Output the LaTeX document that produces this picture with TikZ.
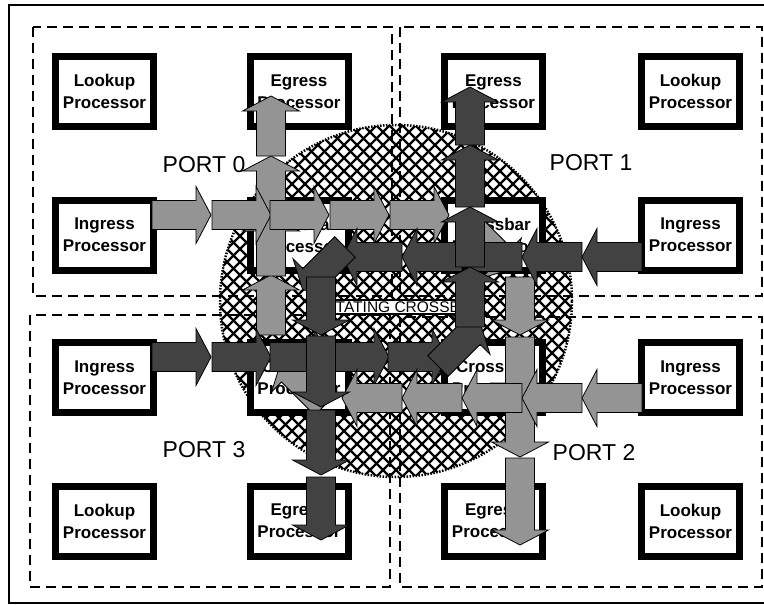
\documentclass[tikz,border=0pt]{standalone}
\usepackage{fontspec}
\setmainfont{Liberation Sans}
\definecolor{litegray}{gray}{0.58}
\definecolor{deepgray}{gray}{0.26}
\tikzset{
  pics/fatarrow/.style={code={
    \path[pic actions] (0,-14.5) -- ({#1-15},-14.5) -- ({#1-15},-28.5) -- (#1,0)
      -- ({#1-15},28.5) -- ({#1-15},14.5) -- (0,14.5) -- cycle;
  }}
}
\begin{document}
\begin{tikzpicture}[x=1pt, y=-1pt,
    proc/.style={draw, line width=7pt, fill=white, minimum width=98pt, minimum height=70pt,
      inner sep=0pt, align=center, font=\fontsize{17}{22}\selectfont\bfseries},
    portbox/.style={draw, dash pattern=on 10pt off 6pt, line width=2.2pt},
    portlabel/.style={font=\fontsize{23}{26}\selectfont},
    litearr/.style={fill=litegray, draw=black, line width=0.8pt},
    darkarr/.style={fill=deepgray, draw=black, line width=0.8pt},
    hatch/.style={line width=2.3pt}
  ]
  \useasboundingbox (0,0) rectangle (764,605);
  \draw[line width=2.6pt] (9,5) rectangle (770,603);
  % rotating crossbar
  \begin{scope}
    \clip (396,301) circle (176pt);
    \fill[white] (396,301) circle (176pt);
    \foreach \k in {-20,...,20} {
      \draw[hatch] ({396+13*\k-190},111) -- ({396+13*\k+190},491);
      \draw[hatch] ({396+13*\k-190},491) -- ({396+13*\k+190},111);
    }
  \end{scope}
  \draw[line width=2.5pt, dash pattern=on 1.5pt off 1.5pt] (396,301) circle (176pt);
  \draw[portbox] (33,27) rectangle (392,296);
  \draw[portbox] (400,27) rectangle (762,296);
  \draw[portbox] (30,315) rectangle (390,587);
  \draw[portbox] (400,317) rectangle (762,587);
  % port 0
  \node[proc] (look0) at (104.5,91.5) {Lookup\\Processor};
  \node[proc] (egr0) at (299,91.5) {Egress\\Processor};
  \node[proc] (ing0) at (104.5,235) {Ingress\\Processor};
  \node[proc] (xbar0) at (299,235) {Crossbar\\Processor};
  \node[portlabel] (lbl0) at (204,165) {PORT 0};
  % port 1
  \node[proc] (egr1) at (493.5,91.5) {Egress\\Processor};
  \node[proc] (look1) at (690.5,91.5) {Lookup\\Processor};
  \node[proc] (xbar1) at (493.5,235) {Crossbar\\Processor};
  \node[proc] (ing1) at (690.5,235) {Ingress\\Processor};
  \node[portlabel] (lbl1) at (591,163) {PORT 1};
  % port 3
  \node[proc] (ing3) at (104.5,377.5) {Ingress\\Processor};
  \node[proc] (xbar3) at (299,377.5) {Crossbar\\Processor};
  \node[proc] (look3) at (104.5,521) {Lookup\\Processor};
  \node[proc] (egr3) at (299,521) {Egress\\Processor};
  \node[portlabel] (lbl3) at (204,450) {PORT 3};
  % port 2
  \node[proc] (xbar2) at (493.5,377.5) {Crossbar\\Processor};
  \node[proc] (ing2) at (690.5,377.5) {Ingress\\Processor};
  \node[proc] (egr2) at (493.5,521) {Egress\\Processor};
  \node[proc] (look2) at (690.5,521) {Lookup\\Processor};
  \node[portlabel] (lbl2) at (594,453) {PORT 2};
  \node[draw, fill=white, line width=1.2pt, inner sep=1.5pt,
    font=\fontsize{15.5}{17}\selectfont] (rotlbl) at (397,307) {ROTATING CROSSBAR};
  % port 2 -> port 0 (up)
  \foreach \t in {335,276,216,156} \pic[litearr, rotate=90] at (271,\t) {fatarrow=60};
  \pic[litearr, rotate=135] at (325,405) {fatarrow=62};
  % port 0 -> port 2
  \foreach \t in {152,212,270,330,390} \pic[litearr] at (\t,215) {fatarrow=59};
  \pic[litearr, rotate=-45] at (468,225) {fatarrow=62};
  \foreach \t/\l in {277/58,337/61,398/59,458/87} \pic[litearr, rotate=-90] at (520,\t) {fatarrow=\l};
  % port 1 -> port 3
  \foreach \t in {642,582,522,462,402} \pic[darkarr, rotate=180] at (\t,257) {fatarrow=60};
  \pic[darkarr, rotate=-135] at (345,247) {fatarrow=60};
  % port 3 -> port 1
  \foreach \t in {152,212,270,330,388} \pic[darkarr] at (\t,357) {fatarrow=59};
  \pic[darkarr, rotate=45] at (438,366) {fatarrow=60};
  \foreach \t/\l in {327/60,267/60,207/62,145/58} \pic[darkarr, rotate=90] at (470,\t) {fatarrow=\l};
  % port 2 -> port 0 (left)
  \foreach \t in {642,582,522,462,402} \pic[litearr, rotate=180] at (\t,398) {fatarrow=60};
  % port 1 -> port 3 (down)
  \foreach \t/\l in {277/58,336/71,410/65,477/63} \pic[darkarr, rotate=-90] at (321,\t) {fatarrow=\l};
\end{tikzpicture}
\end{document}
